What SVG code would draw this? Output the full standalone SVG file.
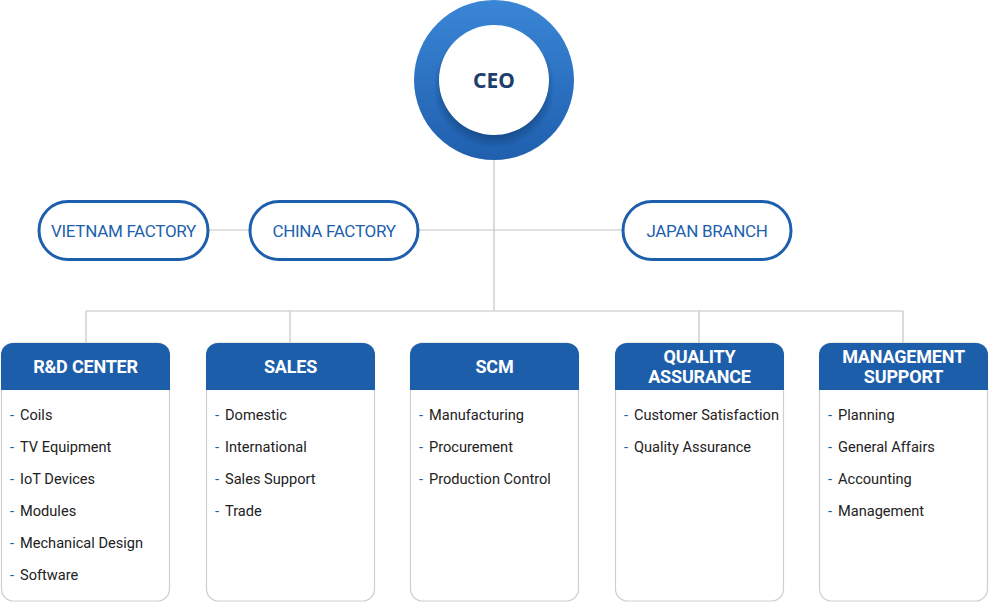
<svg xmlns="http://www.w3.org/2000/svg" width="989" height="603" viewBox="0 0 989 603">
<defs>
<linearGradient id="ceoGrad" x1="0" y1="0" x2="0" y2="1">
<stop offset="0" stop-color="#3a86d6"/>
<stop offset="1" stop-color="#1f5fae"/>
</linearGradient>
<radialGradient id="shadow" cx="0.5" cy="0.5" r="0.5">
<stop offset="0.8" stop-color="#0f3a70" stop-opacity="0.55"/>
<stop offset="1" stop-color="#0f3a70" stop-opacity="0"/>
</radialGradient>
<style>
.line{stroke:#c4c4c4;stroke-width:1.2;fill:none}
.pill{fill:#fff;stroke:#1e5fad;stroke-width:3}
.pilltxt{font-family:Roboto,"Noto Sans",sans-serif;font-size:17px;fill:#1e5fad;text-anchor:middle;letter-spacing:-0.3px}
.box{fill:#fff;stroke:#cfcfcf;stroke-width:1.2}
.head{fill:#1d5eab}
.htxt{font-family:Roboto,"Noto Sans",sans-serif;font-size:18px;font-weight:bold;fill:#fff;text-anchor:middle;letter-spacing:-0.2px}
.item{font-family:Roboto,"Noto Sans",sans-serif;font-size:14.6px;fill:#222}
.dash{fill:#1d5eab}
.ceotxt{font-family:"Noto Sans",Roboto,sans-serif;font-size:21px;font-weight:bold;fill:#1e3f6e;text-anchor:middle}
</style>
</defs>
<g id="connectors">
<path class="line" d="M494 160V311M86 311H903M86 311V343M290 311V343M699 311V343M903 311V343"/>
<path class="line" d="M208 230H250M418 230H623"/>
</g>
<g id="ceo">
<circle cx="494" cy="80" r="80" fill="url(#ceoGrad)"/>
<circle cx="494" cy="87" r="61" fill="url(#shadow)"/>
<circle cx="494" cy="80" r="55" fill="#fff"/>
<text class="ceotxt" x="494" y="88">CEO</text>
</g>
<g id="vietnam">
<rect class="pill" x="39" y="201.5" width="169" height="58" rx="29"/>
<text class="pilltxt" x="123.5" y="236.5">VIETNAM FACTORY</text>
</g>
<g id="china">
<rect class="pill" x="250" y="201.5" width="168" height="58" rx="29"/>
<text class="pilltxt" x="334" y="236.5">CHINA FACTORY</text>
</g>
<g id="japan">
<rect class="pill" x="623" y="201.5" width="168" height="58" rx="29"/>
<text class="pilltxt" x="707" y="236.5">JAPAN BRANCH</text>
</g>
<g id="rd">
<rect class="box" x="1.5" y="343" width="168" height="258" rx="12"/>
<path class="head" d="M1 390V355A12 12 0 0 1 13 343H158A12 12 0 0 1 170 355V390Z"/>
<text class="htxt" x="85.5" y="373">R&amp;D CENTER</text>
<g class="item">
<text x="10" y="420"><tspan class="dash">-</tspan><tspan x="20">Coils</tspan></text>
<text x="10" y="452"><tspan class="dash">-</tspan><tspan x="20">TV Equipment</tspan></text>
<text x="10" y="484"><tspan class="dash">-</tspan><tspan x="20">IoT Devices</tspan></text>
<text x="10" y="516"><tspan class="dash">-</tspan><tspan x="20">Modules</tspan></text>
<text x="10" y="548"><tspan class="dash">-</tspan><tspan x="20">Mechanical Design</tspan></text>
<text x="10" y="580"><tspan class="dash">-</tspan><tspan x="20">Software</tspan></text>
</g>
</g>
<g id="sales">
<rect class="box" x="206.5" y="343" width="168" height="258" rx="12"/>
<path class="head" d="M206 390V355A12 12 0 0 1 218 343H363A12 12 0 0 1 375 355V390Z"/>
<text class="htxt" x="290.5" y="373">SALES</text>
<g class="item">
<text x="215" y="420"><tspan class="dash">-</tspan><tspan x="225">Domestic</tspan></text>
<text x="215" y="452"><tspan class="dash">-</tspan><tspan x="225">International</tspan></text>
<text x="215" y="484"><tspan class="dash">-</tspan><tspan x="225">Sales Support</tspan></text>
<text x="215" y="516"><tspan class="dash">-</tspan><tspan x="225">Trade</tspan></text>
</g>
</g>
<g id="scm">
<rect class="box" x="410.5" y="343" width="168" height="258" rx="12"/>
<path class="head" d="M410 390V355A12 12 0 0 1 422 343H567A12 12 0 0 1 579 355V390Z"/>
<text class="htxt" x="494.5" y="373">SCM</text>
<g class="item">
<text x="419" y="420"><tspan class="dash">-</tspan><tspan x="429">Manufacturing</tspan></text>
<text x="419" y="452"><tspan class="dash">-</tspan><tspan x="429">Procurement</tspan></text>
<text x="419" y="484"><tspan class="dash">-</tspan><tspan x="429">Production Control</tspan></text>
</g>
</g>
<g id="qa">
<rect class="box" x="615.5" y="343" width="168" height="258" rx="12"/>
<path class="head" d="M615 390V355A12 12 0 0 1 627 343H772A12 12 0 0 1 784 355V390Z"/>
<text class="htxt" x="699.5" y="363">QUALITY</text>
<text class="htxt" x="699.5" y="383">ASSURANCE</text>
<g class="item">
<text x="624" y="420"><tspan class="dash">-</tspan><tspan x="634">Customer Satisfaction</tspan></text>
<text x="624" y="452"><tspan class="dash">-</tspan><tspan x="634">Quality Assurance</tspan></text>
</g>
</g>
<g id="mgmt">
<rect class="box" x="819.5" y="343" width="168" height="258" rx="12"/>
<path class="head" d="M819 390V355A12 12 0 0 1 831 343H976A12 12 0 0 1 988 355V390Z"/>
<text class="htxt" x="903.5" y="363">MANAGEMENT</text>
<text class="htxt" x="903.5" y="383">SUPPORT</text>
<g class="item">
<text x="828" y="420"><tspan class="dash">-</tspan><tspan x="838">Planning</tspan></text>
<text x="828" y="452"><tspan class="dash">-</tspan><tspan x="838">General Affairs</tspan></text>
<text x="828" y="484"><tspan class="dash">-</tspan><tspan x="838">Accounting</tspan></text>
<text x="828" y="516"><tspan class="dash">-</tspan><tspan x="838">Management</tspan></text>
</g>
</g>
</svg>
